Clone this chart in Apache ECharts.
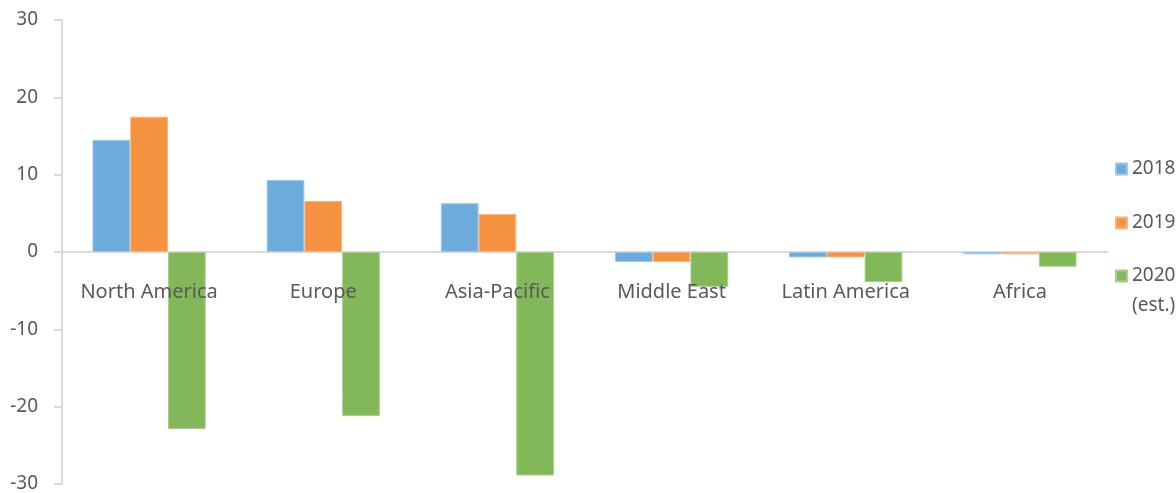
<!DOCTYPE html>
<html>
<head>
<meta charset="utf-8">
<script src="https://cdn.jsdelivr.net/npm/echarts@6/dist/echarts.min.js"></script>
<style>
  html, body { margin: 0; padding: 0; background: #fff; }
  #chart { width: 1176px; height: 493px; }
</style>
</head>
<body>
<div id="chart"></div>
<script>
// Regions along the category axis
const regions = ['North America', 'Europe', 'Asia-Pacific', 'Middle East', 'Latin America', 'Africa'];

// Annual change per region
const values2018 = [14.5, 9.3, 6.3, -1.3, -0.7, -0.3];
const values2019 = [17.5, 6.6, 4.9, -1.3, -0.7, -0.3];
const values2020 = [-22.9, -21.2, -28.9, -4.5, -3.9, -1.9];

const seriesNames = ['2018', '2019', '2020 (est.)'];
const yTicks = { min: -30, max: 30, interval: 10 };

const FONT = '"Noto Sans", sans-serif';
const TEXT = '#595959';
const AXIS = '#d9d9d9';
const colors = ['#6BACDD', '#F4923F', '#83B85A'];
const borders = ['#9cc8ea', '#f8b684', '#a9d08b'];

function bar(name, data, i) {
  return {
    name: name,
    type: 'bar',
    xAxisIndex: 0,
    data: data,
    barGap: '0%',
    barCategoryGap: '35%',
    itemStyle: { color: colors[i], borderColor: borders[i], borderWidth: 1 }
  };
}

const GRID = { left: 62, right: 69, top: 20, bottom: 9 };
const PLOT_H = 493 - GRID.top - GRID.bottom;
// Distance from the bottom of the plot up to the zero line
const zeroOffset = -PLOT_H * (0 - yTicks.min) / (yTicks.max - yTicks.min);

const legendText = { color: TEXT, fontSize: 19, fontFamily: FONT, lineHeight: 20 };

const chart = echarts.init(document.getElementById('chart'), null, { renderer: 'canvas' });
chart.setOption({
  animation: false,
  color: colors,
  textStyle: { fontFamily: FONT },
  grid: Object.assign({ containLabel: false, outerBoundsMode: 'none' }, GRID),
  legend: [
    {
      orient: 'vertical',
      left: 1110,
      top: 154,
      itemWidth: 11,
      itemHeight: 11,
      itemGap: 34,
      icon: 'rect',
      textStyle: legendText,
      data: [seriesNames[0], seriesNames[1]]
    },
    {
      // two-line entry, first line level with the swatch
      orient: 'vertical',
      left: 1110,
      top: 226,
      itemWidth: 11,
      itemHeight: 11,
      icon: 'rect',
      textStyle: Object.assign({}, legendText, { lineHeight: 30 }),
      formatter: function () { return ' \n2020\n(est.)'; },
      data: [seriesNames[2]]
    }
  ],
  xAxis: [
    {
      // zero line
      type: 'category',
      data: regions,
      axisLine: { onZero: true, lineStyle: { color: AXIS, width: 2 } },
      axisTick: { show: false },
      axisLabel: { show: false },
      splitLine: { show: false }
    },
    {
      // region names just under the zero line, drawn above the bars
      type: 'category',
      data: regions,
      position: 'bottom',
      offset: zeroOffset,
      z: 5,
      axisLine: { show: false, onZero: false },
      axisTick: { show: false },
      axisLabel: { color: TEXT, fontSize: 20, fontFamily: FONT, margin: 30, interval: 0 },
      splitLine: { show: false }
    }
  ],
  yAxis: {
    type: 'value',
    min: yTicks.min,
    max: yTicks.max,
    interval: yTicks.interval,
    axisLine: { show: true, lineStyle: { color: AXIS, width: 2 } },
    axisTick: { show: true, length: 8, lineStyle: { color: AXIS, width: 2 } },
    axisLabel: { color: TEXT, fontSize: 19, fontFamily: FONT, margin: 24, padding: [4, 0, 0, 0] },
    splitLine: { show: false }
  },
  series: [
    bar(seriesNames[0], values2018, 0),
    bar(seriesNames[1], values2019, 1),
    bar(seriesNames[2], values2020, 2)
  ]
});
</script>
</body>
</html>
